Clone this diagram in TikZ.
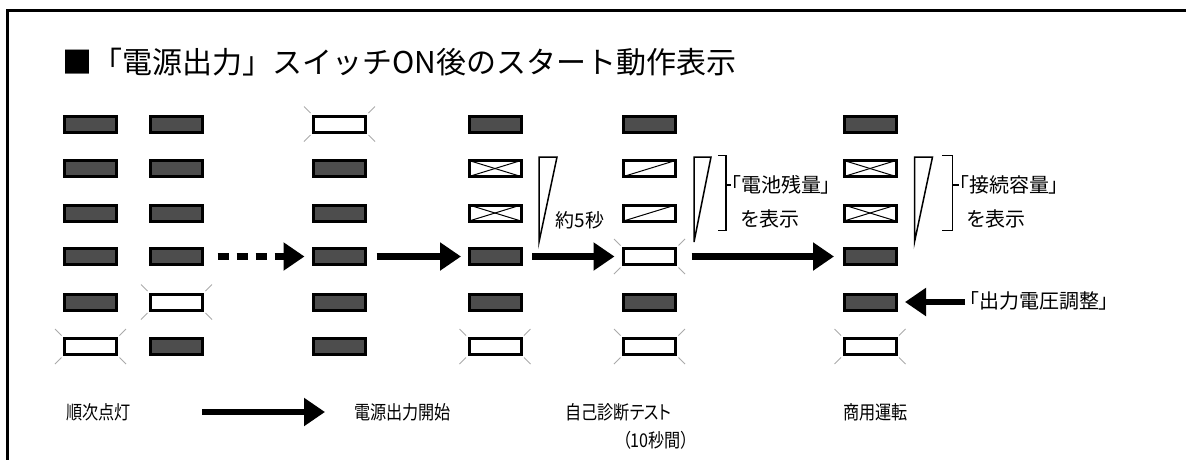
\documentclass[tikz,border=0pt]{standalone}
\usepackage{fontspec}
\setmainfont{Noto Sans CJK JP}[RawFeature=+palt]
\newfontfamily\jpfull{Noto Sans CJK JP}
\newfontfamily\jpcond{Noto Sans CJK JP}[RawFeature=+palt, FakeStretch=0.85]
\usetikzlibrary{arrows.meta,calc}
\definecolor{ledfill}{RGB}{77,77,77}
\definecolor{tickgray}{RGB}{170,170,170}
\tikzset{
  led/.style={draw=black, line width=3pt, minimum width=52pt, minimum height=16pt,
    inner sep=0pt, outer sep=0pt, fill=ledfill},
  ledoff/.style={led, fill=white},
  ledx/.style={ledoff, path picture={
      \draw[line width=1pt] (path picture bounding box.north west) -- (path picture bounding box.south east);
      \draw[line width=1pt] (path picture bounding box.south west) -- (path picture bounding box.north east);}},
  ledh/.style={ledoff, path picture={
      \draw[line width=1pt] (path picture bounding box.south west) -- (path picture bounding box.north east);}},
  blinktick/.style={draw=tickgray, line width=1pt},
  bigarrow/.style={line width=6.5pt, -{Triangle[length=21pt,width=27pt]}},
  dotarrow/.style={bigarrow, dash pattern=on 11pt off 8pt},
  thinline/.style={line width=1.5pt, line join=miter},
  lbltitle/.style={inner sep=0pt, anchor=west, font=\jpfull\fontsize{30}{34}\selectfont},
  lblmid/.style={inner sep=0pt, anchor=west, font=\fontsize{20}{24}\selectfont},
  lblbot/.style={inner sep=0pt, anchor=west, font=\jpcond\fontsize{19}{22}\selectfont},
}
\newcommand\blinkmark[1]{%
  \draw[blinktick] ($(#1.north west)+(-3,-3)$) -- ++(-6.5,-6.5);
  \draw[blinktick] ($(#1.north east)+(3,-3)$) -- ++(6.5,-6.5);
  \draw[blinktick] ($(#1.south west)+(-3,3)$) -- ++(-6.5,6.5);
  \draw[blinktick] ($(#1.south east)+(3,3)$) -- ++(6.5,6.5);}
\begin{document}
\begin{tikzpicture}[x=1pt,y=-1pt]
\useasboundingbox (0,0) rectangle (1186,459);
% frame
\draw[line width=3pt] (7.5,470) -- (7.5,10.5) -- (1200,10.5);
% title
\node[lbltitle] (title) at (62,62) {■「電源出力」スイッチON後のスタート動作表示};
% column 1
\node[led] (c1r1) at (90.5,124) {};
\node[led] (c1r2) at (90.5,168.5) {};
\node[led] (c1r3) at (90.5,213) {};
\node[led] (c1r4) at (90.5,256.5) {};
\node[led] (c1r5) at (90.5,302) {};
\node[ledoff] (c1r6) at (90.5,346.5) {};
% column 2
\node[led] (c2r1) at (176.5,124) {};
\node[led] (c2r2) at (176.5,168.5) {};
\node[led] (c2r3) at (176.5,213) {};
\node[led] (c2r4) at (176.5,256.5) {};
\node[ledoff] (c2r5) at (176.5,302) {};
\node[led] (c2r6) at (176.5,346.5) {};
% column 3
\node[ledoff] (c3r1) at (339.5,124) {};
\node[led] (c3r2) at (339.5,168.5) {};
\node[led] (c3r3) at (339.5,213) {};
\node[led] (c3r4) at (339.5,256.5) {};
\node[led] (c3r5) at (339.5,302) {};
\node[led] (c3r6) at (339.5,346.5) {};
% column 4
\node[led] (c4r1) at (495,124) {};
\node[ledx] (c4r2) at (495,168.5) {};
\node[ledx] (c4r3) at (495,213) {};
\node[led] (c4r4) at (495,256.5) {};
\node[led] (c4r5) at (495,302) {};
\node[ledoff] (c4r6) at (495,346.5) {};
% column 5
\node[led] (c5r1) at (649.5,124) {};
\node[ledh] (c5r2) at (649.5,168.5) {};
\node[ledh] (c5r3) at (649.5,213) {};
\node[ledoff] (c5r4) at (649.5,256.5) {};
\node[led] (c5r5) at (649.5,302) {};
\node[ledoff] (c5r6) at (649.5,346.5) {};
% column 6
\node[led] (c6r1) at (870,124) {};
\node[ledx] (c6r2) at (870,168.5) {};
\node[ledx] (c6r3) at (870,213) {};
\node[led] (c6r4) at (870,256.5) {};
\node[led] (c6r5) at (870,302) {};
\node[ledoff] (c6r6) at (870,346.5) {};
% blinking marks
\blinkmark{c1r6}
\blinkmark{c2r5}
\blinkmark{c3r1}
\blinkmark{c4r6}
\blinkmark{c5r4}
\blinkmark{c5r6}
\blinkmark{c6r6}
% arrows between columns
\draw[dotarrow, shorten <=15pt, shorten >=9pt] (c2r4) -- (c3r4);
\draw[bigarrow, shorten <=11pt, shorten >=8pt] (c3r4) -- (c4r4);
\draw[bigarrow, shorten <=11pt, shorten >=9pt] (c4r4) -- (c5r4);
\draw[bigarrow, shorten <=16pt, shorten >=10pt] (c5r4) -- (c6r4);
% wedges
\draw[thinline] (539,157) -- (557,157) -- (539,242) -- cycle;
\draw[thinline] (694,157) -- (711,157) -- (694,242) -- cycle;
\draw[thinline] (914.5,157) -- (932.5,157) -- (914.5,242) -- cycle;
% brackets
\draw[thinline] (718,155.5) -- (726,155.5) -- (726,230.5) -- (718,230.5);
\draw[thinline] (942,155.5) -- (952.5,155.5) -- (952.5,230.5) -- (942,230.5);
% labels beside
\node[font=\fontsize{19}{22}\selectfont, inner sep=0pt] (five) at (580,220) {約5秒};
\node[lblmid] (bat) at (731,185) {「電池残量」};
\node[lblmid] (bat2) at (741,219) {を表示};
\node[lblmid] (cap) at (959,185) {「接続容量」};
\node[lblmid] (cap2) at (967,219) {を表示};
\draw[thinline] (726,185) -- (bat.west);
\draw[thinline] (952.5,185) -- (cap.west);
\node[lblmid] (volt) at (969,301) {「出力電圧調整」};
\draw[bigarrow, shorten <=4pt, shorten >=9pt] (c6r5 -| volt.west) -- (c6r5.east);
% bottom labels
\node[lblbot] (seq) at (66,412) {順次点灯};
\node[lblbot] (start) at (354,412) {電源出力開始};
\node[lblbot] (self) at (565,412) {自己診断テスト};
\node[lblbot, anchor=center] (tensec) at (656,440) {（10秒間）};
\node[lblbot] (comm) at (843,412) {商用運転};
\draw[bigarrow, shorten <=71pt, shorten >=29pt] (seq.east) -- (start.west);
\end{tikzpicture}
\end{document}
